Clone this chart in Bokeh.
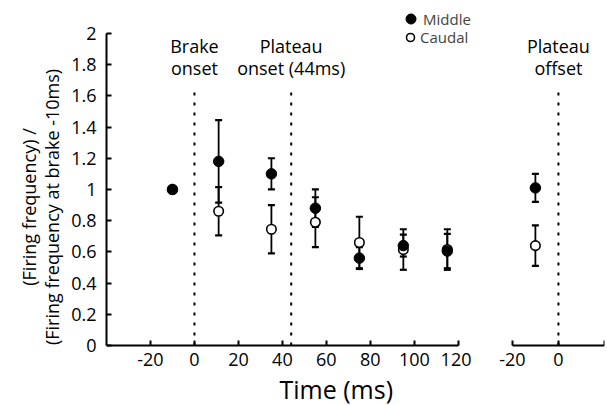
from bokeh.plotting import figure
from bokeh.layouts import row
from bokeh.models import (ColumnDataSource, Whisker, TeeHead, FixedTicker,
                          Legend, LegendItem, Range1d)
from bokeh.core.properties import value
from bokeh.embed import file_html
from bokeh.resources import INLINE

FONT = "Open Sans"

# ---- Data: main panel (time relative to brake onset, ms) ----
time_ms = [-10, 11, 35, 55, 75, 95, 115]
middle_mean = [1.00, 1.18, 1.10, 0.88, 0.56, 0.64, 0.605]
middle_err = [0.0, 0.265, 0.10, 0.12, 0.07, 0.07, 0.11]
caudal_mean = [1.00, 0.86, 0.745, 0.79, 0.66, 0.615, 0.615]
caudal_err = [0.0, 0.155, 0.155, 0.16, 0.165, 0.13, 0.13]

# ---- Data: offset panel (time relative to plateau offset, ms) ----
offset_time = [-10]
offset_middle_mean = [1.01]
offset_middle_err = [0.09]
offset_caudal_mean = [0.64]
offset_caudal_err = [0.13]

# ---- Events / labels ----
event_x = [0, 44]
event_labels = ["Brake\nonset", "Plateau\nonset (44ms)"]
offset_event_x = [0]
offset_event_labels = ["Plateau\noffset"]
event_line_top = 1.65
event_label_y = 1.85

x_ticks = [-20, 0, 20, 40, 60, 80, 100, 120]
x_tick_labels = ["-20", "0", "20", "40", "60", "80", "100", "120"]
offset_x_ticks = [-20, 0, 20]
offset_x_tick_labels = ["-20", "0", ""]
y_ticks = [0, 0.2, 0.4, 0.6, 0.8, 1.0, 1.2, 1.4, 1.6, 1.8, 2.0]
y_tick_labels = ["0", "0.2", "0.4", "0.6", "0.8", "1", "1.2", "1.4", "1.6", "1.8", "2"]

x_title = "Time (ms)"
x_title_pos = (64.5, -0.28)

# y range extends below 0 so the x-axis title can sit inside the frame
Y_RANGE = (-0.385, 2.16)


def style_axis(ax):
    ax.axis_line_width = 2
    ax.axis_line_color = "black"
    ax.major_tick_line_width = 2
    ax.major_tick_line_color = "black"
    ax.major_tick_in = 5
    ax.major_tick_out = 0
    ax.minor_tick_in = 0
    ax.minor_tick_out = 0
    ax.major_label_text_font = FONT
    ax.major_label_text_font_size = "18px"
    ax.major_label_text_color = "black"


def add_errorbars(p, x, mean, err):
    xs, up, lo = [], [], []
    for xi, m, e in zip(x, mean, err):
        if e > 0:
            xs.append(xi)
            up.append(m + e)
            lo.append(m - e)
    src = ColumnDataSource(dict(base=xs, upper=up, lower=lo))
    w = Whisker(source=src, base="base", upper="upper", lower="lower",
                dimension="height", line_color="black", line_width=1.8,
                upper_head=TeeHead(size=7, line_width=2.2, line_color="black"),
                lower_head=TeeHead(size=7, line_width=2.2, line_color="black"),
                level="underlay")
    p.add_layout(w)


def add_points(p, x, cm, ce, mm, me):
    add_errorbars(p, x, cm, ce)
    add_errorbars(p, x, mm, me)
    rc = p.scatter(x, cm, size=9.5, marker="circle", fill_color="white",
                   line_color="black", line_width=1.6)
    rm = p.scatter(x, mm, size=10.5, marker="circle", fill_color="black",
                   line_color="black", line_width=1)
    return rm, rc


# ---------------- Left (main) panel ----------------
p = figure(width=471, height=405, x_range=Range1d(-40, 126), y_range=Range1d(*Y_RANGE),
           output_backend="svg", toolbar_location=None,
           min_border_left=106, min_border_right=0, min_border_top=8, min_border_bottom=0)
p.outline_line_color = None
p.grid.visible = False

p.segment(x0=event_x, y0=[0] * len(event_x), x1=event_x, y1=[event_line_top] * len(event_x),
          line_color="black", line_width=2, line_dash="3 7")
p.text(x=event_x, y=[event_label_y] * len(event_x), text=event_labels,
       text_align="center", text_baseline="middle", text_font=value(FONT),
       text_font_size="18px", text_color="black", text_line_height=0.9)
p.text(x=[x_title_pos[0]], y=[x_title_pos[1]], text=[x_title],
       text_align="center", text_baseline="middle", text_font=value(FONT),
       text_font_size="25px", text_color="black")

r_mid, r_caud = add_points(p, time_ms, caudal_mean, caudal_err, middle_mean, middle_err)

style_axis(p.xaxis[0])
style_axis(p.yaxis[0])
p.xaxis[0].fixed_location = 0
p.xaxis[0].ticker = FixedTicker(ticks=x_ticks)
p.xaxis[0].major_label_overrides = {t: l for t, l in zip(x_ticks, x_tick_labels)}
p.xaxis[0].bounds = (-40, 120)
p.xaxis[0].major_label_standoff = 8
p.yaxis[0].ticker = FixedTicker(ticks=y_ticks)
p.yaxis[0].major_label_overrides = {t: l for t, l in zip(y_ticks, y_tick_labels)}
p.yaxis[0].bounds = (0, 2)
p.yaxis[0].major_label_standoff = 10
p.yaxis[0].axis_label = "(Firing frequency) /\n(Firing frequency at brake -10ms)"
p.yaxis[0].axis_label_text_font = FONT
p.yaxis[0].axis_label_text_font_size = "18px"
p.yaxis[0].axis_label_text_font_style = "normal"
p.yaxis[0].axis_label_text_color = "black"
p.yaxis[0].axis_label_text_line_height = 0.95
p.yaxis[0].axis_label_standoff = 4

leg_mid = Legend(items=[LegendItem(label="Middle", renderers=[r_mid])],
                 location=(292, 374), glyph_width=25, glyph_height=25, label_height=18,
                 padding=0, margin=0, label_standoff=0,
                 label_text_font=FONT, label_text_font_size="15px",
                 background_fill_alpha=0, border_line_color=None)
leg_caud = Legend(items=[LegendItem(label="Caudal", renderers=[r_caud])],
                  location=(294, 358), glyph_width=20, glyph_height=20, label_height=18,
                  padding=0, margin=0, label_standoff=0,
                  label_text_font=FONT, label_text_font_size="15px",
                  background_fill_alpha=0, border_line_color=None)
p.add_layout(leg_mid)
p.add_layout(leg_caud)

# ---------------- Right (offset) panel ----------------
p2 = figure(width=135, height=405, x_range=Range1d(-36, 20), y_range=Range1d(*Y_RANGE),
            output_backend="svg", toolbar_location=None, y_axis_location=None,
            min_border_left=4, min_border_right=2, min_border_top=8, min_border_bottom=0)
p2.outline_line_color = None
p2.grid.visible = False

p2.segment(x0=offset_event_x, y0=[0] * len(offset_event_x), x1=offset_event_x,
           y1=[event_line_top] * len(offset_event_x),
           line_color="black", line_width=2, line_dash="3 7")
p2.text(x=offset_event_x, y=[event_label_y] * len(offset_event_x), text=offset_event_labels,
        text_align="center", text_baseline="middle", text_font=value(FONT),
        text_font_size="18px", text_color="black", text_line_height=0.9)

add_points(p2, offset_time, offset_caudal_mean, offset_caudal_err,
           offset_middle_mean, offset_middle_err)

style_axis(p2.xaxis[0])
p2.xaxis[0].fixed_location = 0
p2.xaxis[0].bounds = (-20, 20)
p2.xaxis[0].ticker = FixedTicker(ticks=offset_x_ticks)
p2.xaxis[0].major_label_overrides = {t: l for t, l in zip(offset_x_ticks, offset_x_tick_labels)}
p2.xaxis[0].major_label_standoff = 8

layout = row(p, p2)
open("out.html", "w").write(file_html(layout, INLINE))
